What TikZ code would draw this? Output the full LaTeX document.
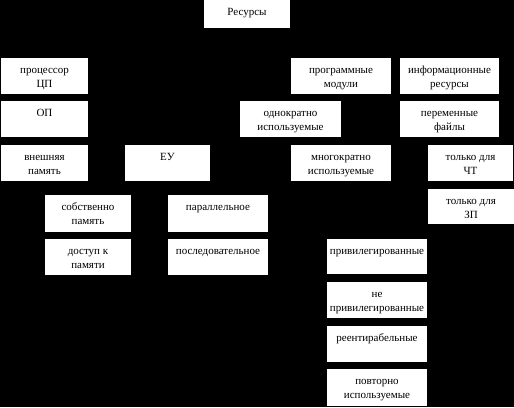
\documentclass[tikz,border=0pt]{standalone}
\usepackage{fontspec}
\setmainfont{Liberation Serif}
\tikzset{
  rbox/.style={fill=white, inner sep=0pt, outer sep=0pt, anchor=north west,
    font=\fontsize{11}{14}\selectfont}
}
\newcommand\rbx[6]{\node[rbox] (#1) at (#2,#3)
  {\parbox[c][#5pt][t]{#4pt}{\centering\vspace*{5.7pt}\strut #6\par}};}
\begin{document}
\begin{tikzpicture}[x=1pt,y=-1pt]
\fill[black] (0,0) rectangle (514,407);
\useasboundingbox (0,0) rectangle (514,407);
\rbx{res}{204}{0}{86}{28}{Ресурсы}
\rbx{proc}{1}{58}{87}{36}{процессор\\ЦП}
\rbx{op}{1}{101}{87}{36}{ОП}
\rbx{ext}{1}{145}{87}{36}{внешняя\\память}
\rbx{eu}{125}{145}{85}{36}{ЕУ}
\rbx{own}{45}{195}{86}{37}{собственно\\память}
\rbx{acc}{45}{239}{86}{36}{доступ к\\памяти}
\rbx{par}{168}{195}{100}{37}{параллельное}
\rbx{seq}{168}{239}{100}{36}{последовательное}
\rbx{prog}{291}{58}{100}{36}{программные\\модули}
\rbx{info}{400}{58}{99}{36}{информационные\\ресурсы}
\rbx{once}{240}{101}{101}{36}{однократно\\используемые}
\rbx{var}{400}{101}{99}{36}{переменные\\файлы}
\rbx{multi}{291}{145}{100}{36}{многократно\\используемые}
\rbx{ro}{428}{145}{85}{36}{только для\\ЧТ}
\rbx{wo}{428}{189}{86}{35}{только для\\ЗП}
\rbx{priv}{327}{239}{100}{35}{привилегированные}
\rbx{npriv}{327}{282}{100}{36}{не\\привилегированные}
\rbx{reent}{327}{326}{100}{36}{реентирабельные}
\rbx{reuse}{327}{369}{100}{37}{повторно\\используемые}
\end{tikzpicture}
\end{document}
